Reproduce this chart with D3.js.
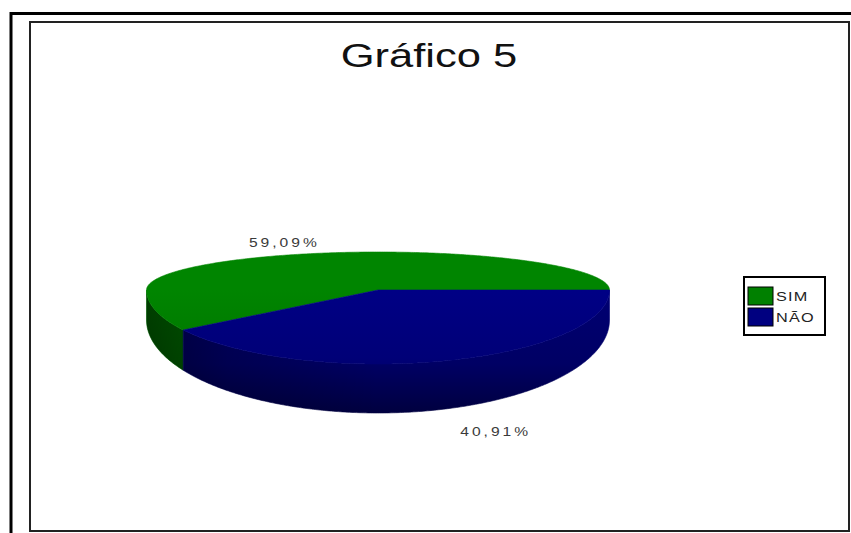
<!DOCTYPE html>
<html>
<head>
<meta charset="utf-8">
<script src="https://cdn.jsdelivr.net/npm/d3@7"></script>
<style>
  body { margin: 0; background: #fff; }
  svg { display: block; }
  text { font-family: "Liberation Sans", Arial, sans-serif; }
</style>
</head>
<body>
<script>
// Chart data
const chartTitle = "Gráfico 5";
const categories = ["SIM", "NÃO"];
const values = [59.09, 40.91];
const valueLabels = ["59,09%", "40,91%"];
const palette = ["#008000", "#000080"];

const W = 851, H = 533;
const svg = d3.select("body").append("svg").attr("width", W).attr("height", H);

// Outer and inner frames
svg.append("path")
  .attr("d", `M11,${H} V13.5 H${W}`)
  .attr("fill", "none").attr("stroke", "#000").attr("stroke-width", 3);
svg.append("rect")
  .attr("x", 30).attr("y", 22).attr("width", 819).attr("height", 509)
  .attr("fill", "#fff").attr("stroke", "#222").attr("stroke-width", 2);

// Title
svg.append("text")
  .attr("transform", "translate(429,67) scale(1.32,1)")
  .attr("text-anchor", "middle")
  .attr("font-size", 33)
  .attr("fill", "#111")
  .text(chartTitle);

// 3D pie geometry: top face is an egg-shaped ellipse (back half flatter than
// the front half) with a wall whose height grows toward the viewer.
const cx = 378, cy = 290, rx = 231.5, ryBack = 38, ryFront = 74;
const wallSide = 30, wallFront = 49;
const pieBottom = cy + ryFront + wallFront;

function rim(a, k = 1) {
  const s = Math.sin(a);
  return [cx + rx * k * Math.cos(a), cy - (s >= 0 ? ryBack : ryFront) * k * s];
}
function wall(a) {
  return wallSide + (wallFront - wallSide) * Math.max(0, -Math.sin(a));
}
function sample(a0, a1) {
  const n = Math.max(2, Math.ceil(Math.abs(a1 - a0) / 0.01));
  return d3.range(n + 1).map(i => a0 + (a1 - a0) * i / n);
}

// Slices start at 3 o'clock and run counter-clockwise
const pie = d3.pie().sort(null)
  .startAngle(Math.PI / 2)
  .endAngle(Math.PI / 2 - 2 * Math.PI);
const slices = pie(values).map((d, i) => ({
  i,
  a0: Math.PI / 2 - d.startAngle,
  a1: Math.PI / 2 - d.endAngle,
  color: palette[i]
}));

// Shading gradients (vertical, darker toward the front/bottom)
const defs = svg.append("defs");
function grad(id, stops, x1 = 0, x2 = 0, y1 = cy, y2 = pieBottom) {
  const g = defs.append("linearGradient").attr("id", id)
    .attr("gradientUnits", "userSpaceOnUse")
    .attr("x1", x1).attr("x2", x2).attr("y1", y1).attr("y2", y2);
  stops.forEach(([o, c, op = 1]) => g.append("stop")
    .attr("offset", o).attr("stop-color", c).attr("stop-opacity", op));
}
slices.forEach(s => {
  const base = d3.color(s.color);
  grad(`top${s.i}`, [
    [0, base.brighter(0.1).formatHex()],
    [0.55, base.darker(0.2).formatHex()],
    [1, base.darker(1.3).formatHex()]
  ]);
  grad(`wall${s.i}`, [
    [0, base.darker(0.3).formatHex()],
    [0.6, base.darker(0.7).formatHex()],
    [1, base.darker(2.0).formatHex()]
  ]);
});
// Side light: walls facing left are in shade
grad("wallShade", [[0, "#000", 0.45], [0.35, "#000", 0.2], [1, "#000", 0]], cx - rx, cx, 0, 0);

const pieG = svg.append("g");
const line = d3.line();

// Walls (front half only)
slices.forEach(s => {
  const lo = Math.max(s.a0, Math.PI), hi = Math.min(s.a1, 2 * Math.PI);
  if (hi <= lo) return;
  const angs = sample(lo, hi);
  const top = angs.map(a => rim(a));
  const bot = angs.slice().reverse().map(a => { const p = rim(a); return [p[0], p[1] + wall(a)]; });
  const d = line(top.concat(bot)) + "Z";
  pieG.append("path").attr("d", d)
    .attr("fill", `url(#wall${s.i})`)
    .attr("stroke", `url(#wall${s.i})`).attr("stroke-width", 0.6);
  pieG.append("path").attr("d", d).attr("fill", "url(#wallShade)");
});

// Top faces
slices.forEach(s => {
  const pts = [[cx, cy]].concat(sample(s.a0, s.a1).map(a => rim(a)));
  pieG.append("path")
    .attr("d", line(pts) + "Z")
    .attr("fill", `url(#top${s.i})`)
    .attr("stroke", `url(#top${s.i})`).attr("stroke-width", 0.6);
});

// Value labels placed outside each slice's mid angle
slices.forEach(s => {
  const am = (s.a0 + s.a1) / 2;
  const sn = Math.sin(am);
  const x = cx + 12 + rx * 1.62 * Math.cos(am);
  const y = sn >= 0 ? cy - ryBack * 1.3 * sn : cy - (ryFront + wallFront) * 1.2 * sn;
  svg.append("text")
    .attr("transform", `translate(${x},${y}) scale(1.2,1)`)
    .attr("text-anchor", "middle")
    .attr("dominant-baseline", "central")
    .attr("font-size", 13)
    .attr("letter-spacing", 2.5)
    .attr("fill", "#3a3a3a")
    .text(valueLabels[s.i]);
});

// Legend
const lg = svg.append("g").attr("transform", "translate(744,277)");
lg.append("rect").attr("width", 81).attr("height", 58)
  .attr("fill", "#fff").attr("stroke", "#000").attr("stroke-width", 2);
const row = d3.scalePoint().domain(categories).range([10, 31]);
const items = lg.selectAll("g.item").data(categories).join("g")
  .attr("class", "item")
  .attr("transform", d => `translate(4,${row(d)})`);
items.append("rect").attr("width", 25).attr("height", 18)
  .attr("fill", (d, i) => palette[i]).attr("stroke", "#000").attr("stroke-width", 1);
items.append("text")
  .attr("transform", "translate(28,14) scale(1.25,1)")
  .attr("font-size", 13)
  .attr("letter-spacing", 1)
  .attr("fill", "#222")
  .text(d => d);
</script>
</body>
</html>
